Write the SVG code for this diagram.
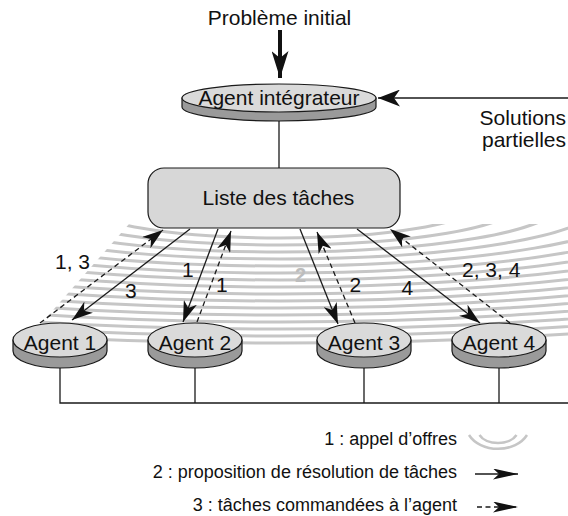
<svg xmlns="http://www.w3.org/2000/svg" width="568" height="516" viewBox="0 0 568 516">
<style>
text{font-family:"Liberation Sans",Arial,sans-serif;fill:#111}
.t21{font-size:21px}
.t18{font-size:18px}
.wave{fill:none;stroke:#c6c6c6;stroke-width:3}
.ln{fill:none;stroke:#1a1a1a;stroke-width:1.3}
.dash{stroke-dasharray:5 3.5}
.side{fill:#9a9a9a;stroke:#1a1a1a;stroke-width:1.2}
.top{fill:#dadada;stroke:#1a1a1a;stroke-width:1.2}
</style>
<defs>
<clipPath id="fan"><polygon points="129,224 568,224 568,352 16,352"/></clipPath>
<marker id="ah" markerUnits="userSpaceOnUse" orient="auto" markerWidth="21" markerHeight="14" refX="21" refY="7"><path d="M0,0 L21,7 L0,14 L6,7 Z" fill="#111"/></marker>
<marker id="ahBig" markerUnits="userSpaceOnUse" orient="auto" markerWidth="27" markerHeight="17" refX="27" refY="8.5"><path d="M0,0 L27,8.5 L0,17 L7,8.5 Z" fill="#111"/></marker>
<marker id="ahMed" markerUnits="userSpaceOnUse" orient="auto" markerWidth="22" markerHeight="17" refX="22" refY="8.5"><path d="M0,0 L22,8.5 L0,17 L6,8.5 Z" fill="#111"/></marker>
<marker id="ahLeg" markerUnits="userSpaceOnUse" orient="auto" markerWidth="25" markerHeight="11" refX="25" refY="5.5"><path d="M0,0 L25,5.5 L0,11 L6,5.5 Z" fill="#111"/></marker>
</defs>

<g id="waves" clip-path="url(#fan)">
<path class="wave" d="M85.3,205 A194.7 33 0 0 0 474.7,205"/>
<path class="wave" d="M44,205 A236 40 0 0 0 516,205"/>
<path class="wave" d="M2.7,205 A277.3 47 0 0 0 557.3,205"/>
<path class="wave" d="M-38.6,205 A318.6 54 0 0 0 598.6,205"/>
<path class="wave" d="M-79.9,205 A359.9 61 0 0 0 639.9,205"/>
<path class="wave" d="M-121.2,205 A401.2 68 0 0 0 681.2,205"/>
<path class="wave" d="M-162.5,205 A442.5 75 0 0 0 722.5,205"/>
<path class="wave" d="M-203.8,205 A483.8 82 0 0 0 763.8,205"/>
<path class="wave" d="M-245.1,205 A525.1 89 0 0 0 805.1,205"/>
<path class="wave" d="M-286.4,205 A566.4 96 0 0 0 846.4,205"/>
<path class="wave" d="M-327.7,205 A607.7 103 0 0 0 887.7,205"/>
<path class="wave" d="M-369,205 A649 110 0 0 0 929,205"/>
<path class="wave" d="M-410.3,205 A690.3 117 0 0 0 970.3,205"/>
<path class="wave" d="M-451.6,205 A731.6 124 0 0 0 1011.6,205"/>
<path class="wave" d="M-492.9,205 A772.9 131 0 0 0 1052.9,205"/>
<path class="wave" d="M-534.2,205 A814.2 138 0 0 0 1094.2,205"/>
</g>
<text x="295" y="282" style="font-size:20px;font-weight:bold;fill:#bdbdbd">2</text>

<g id="connectors">
<line x1="280" y1="30" x2="280" y2="78" stroke="#111" stroke-width="4" marker-end="url(#ahBig)"/>
<line class="ln" x1="568" y1="98" x2="378" y2="98" marker-end="url(#ahMed)"/>
<line class="ln" x1="279" y1="121" x2="279" y2="168"/>
<line class="ln" x1="190" y1="229" x2="72" y2="320" marker-end="url(#ah)"/>
<line class="ln dash" x1="40" y1="323" x2="163" y2="230" marker-end="url(#ah)"/>
<line class="ln" x1="218" y1="229" x2="183" y2="322" marker-end="url(#ah)"/>
<line class="ln dash" x1="197" y1="322" x2="231" y2="231" marker-end="url(#ah)"/>
<line class="ln" x1="300" y1="229" x2="338" y2="324" marker-end="url(#ah)"/>
<line class="ln dash" x1="355" y1="323" x2="317" y2="232" marker-end="url(#ah)"/>
<line class="ln" x1="357" y1="229" x2="480" y2="323" marker-end="url(#ah)"/>
<line class="ln dash" x1="510" y1="323" x2="390" y2="229" marker-end="url(#ah)"/>
<polyline class="ln" points="60,368 60,403 568,403"/>
<line class="ln" x1="195" y1="368" x2="195" y2="403"/>
<line class="ln" x1="364" y1="368" x2="364" y2="403"/>
<line class="ln" x1="499" y1="368" x2="499" y2="403"/>
</g>

<text class="t21" x="279.5" y="25" text-anchor="middle">Problème initial</text>

<g id="integrateur">
<path class="side" d="M182,98 L182,107 A97 14 0 0 0 376,107 L376,98 Z"/>
<ellipse class="top" cx="279" cy="98" rx="97" ry="14"/>
<text class="t21" x="279" y="105" text-anchor="middle">Agent intégrateur</text>
</g>

<g id="solutions">
<text class="t21" x="566" y="125" text-anchor="end">Solutions</text>
<text class="t21" x="566" y="147" text-anchor="end">partielles</text>
</g>

<g id="liste">
<rect x="148" y="168" width="252" height="60" rx="16" fill="#d7d7d7" stroke="#1a1a1a" stroke-width="1.2"/>
<text class="t21" x="278.5" y="205" text-anchor="middle">Liste des tâches</text>
</g>

<g id="agent1">
<path class="side" d="M13,340 L13,351 A47 17 0 0 0 107,351 L107,340 Z"/>
<ellipse class="top" cx="60" cy="340" rx="47" ry="17"/>
<text class="t21" x="60" y="350" text-anchor="middle">Agent 1</text>
</g>
<g id="agent2">
<path class="side" d="M148,340 L148,351 A47 17 0 0 0 242,351 L242,340 Z"/>
<ellipse class="top" cx="195" cy="340" rx="47" ry="17"/>
<text class="t21" x="195" y="350" text-anchor="middle">Agent 2</text>
</g>
<g id="agent3">
<path class="side" d="M317,340 L317,351 A47 17 0 0 0 411,351 L411,340 Z"/>
<ellipse class="top" cx="364" cy="340" rx="47" ry="17"/>
<text class="t21" x="364" y="350" text-anchor="middle">Agent 3</text>
</g>
<g id="agent4">
<path class="side" d="M452,340 L452,351 A47 17 0 0 0 546,351 L546,340 Z"/>
<ellipse class="top" cx="499" cy="340" rx="47" ry="17"/>
<text class="t21" x="499" y="350" text-anchor="middle">Agent 4</text>
</g>

<g id="labels">
<text class="t21" x="55" y="269">1, 3</text>
<text class="t21" x="125" y="298">3</text>
<text class="t21" x="182" y="277">1</text>
<text class="t21" x="216" y="292">1</text>
<text class="t21" x="349.5" y="292">2</text>
<text class="t21" x="401.5" y="295">4</text>
<text class="t21" x="462" y="277">2, 3, 4</text>
</g>

<g id="legend">
<text class="t18" x="457" y="445" text-anchor="end">1 : appel d’offres</text>
<path class="wave" style="stroke-width:2.5" d="M469,435 A32 24 0 0 0 527,435"/>
<path class="wave" style="stroke-width:2.5" d="M479.5,435 A20 13 0 0 0 516.5,435"/>
<text class="t18" x="457" y="478" text-anchor="end">2 : proposition de résolution de tâches</text>
<line class="ln" x1="475" y1="474" x2="518" y2="474" marker-end="url(#ahLeg)"/>
<text class="t18" x="457" y="511" text-anchor="end">3 : tâches commandées à l’agent</text>
<line class="ln dash" x1="477" y1="507" x2="518" y2="507" marker-end="url(#ahLeg)"/>
</g>
</svg>
